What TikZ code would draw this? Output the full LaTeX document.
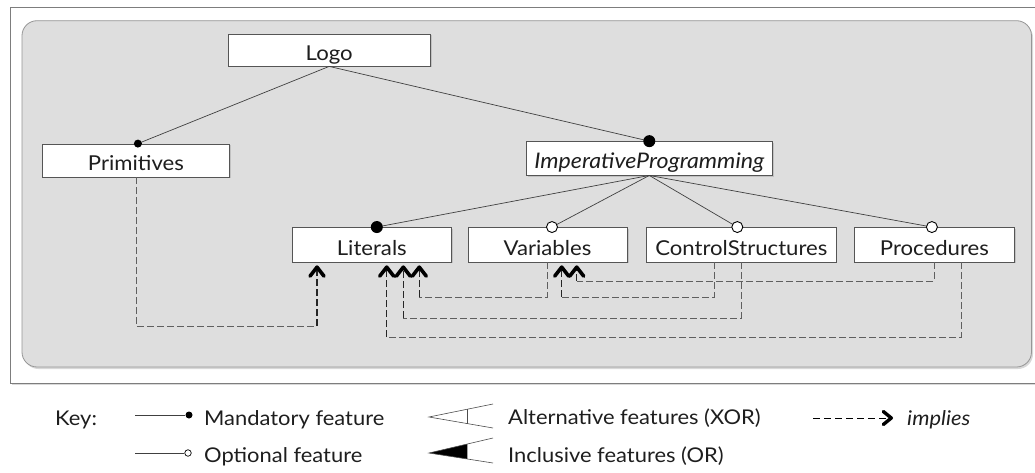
\documentclass[tikz,border=0pt]{standalone}
\usepackage{fontspec}
\setmainfont{Lato}[FakeStretch=1.08]
\usetikzlibrary{arrows.meta,shadows,calc}
\definecolor{bgfill}{RGB}{222,222,222}
\definecolor{framegray}{RGB}{125,125,125}
\definecolor{innergray}{RGB}{150,150,150}
\definecolor{boxline}{RGB}{85,85,85}
\definecolor{txt}{RGB}{30,30,30}
\definecolor{dashgray}{RGB}{95,95,95}
\begin{document}
\begin{tikzpicture}[x=1pt,y=-1pt,
  feat/.style={draw=boxline, line width=0.8pt, fill=white, inner sep=0pt,
    text height=21pt, text depth=0pt, font=\fontsize{20.5}{25}\selectfont, text=txt,
    drop shadow={shadow xshift=1.5pt, shadow yshift=-1.5pt, opacity=0.3}},
  tree/.style={draw=black!75, line width=0.7pt},
  mand/.style={circle, fill=black, inner sep=0pt, minimum size=#1},
  opt/.style={circle, draw=black, fill=white, line width=0.9pt, inner sep=0pt, minimum size=#1},
  impl/.style={draw=dashgray, line width=0.8pt, dash pattern=on 7pt off 3pt},
  impltip/.style={draw=black!85, line width=1.3pt, dash pattern=on 7pt off 3pt,
    -{Straight Barb[length=9pt,width=14pt,line width=3.6pt 0 1,round,color=black]}, shorten >=3pt},
  lg/.style={font=\fontsize{20.3}{24}\selectfont, text=txt, inner sep=0pt},
  symline/.style={draw=black!70, line width=0.6pt}
]
\useasboundingbox (0,0) rectangle (1035,473);
% frames
\draw[draw=framegray, line width=0.8pt, fill=white,
  drop shadow={shadow xshift=1.5pt, shadow yshift=-2pt, opacity=0.3}] (10.7,7.3) rectangle (1050,383);
\draw[draw=innergray, line width=0.8pt, fill=bgfill, rounded corners=15pt,
  drop shadow={shadow xshift=1.5pt, shadow yshift=-2pt, opacity=0.3}] (22,20.7) rectangle (1031.5,367);

% feature nodes
\node[feat, minimum width=202pt, minimum height=32pt] (logo) at (329.2,50) {Logo};
\node[feat, minimum width=186.3pt, minimum height=33pt] (prim) at (135.9,160.5) {Primitives};
\node[feat, minimum width=245.4pt, minimum height=33.5pt, font=\fontsize{21.5}{25}\selectfont\itshape] (ip) at (649.3,158.3) {ImperativeProgramming};
\node[feat, minimum width=159.7pt, minimum height=34.5pt] (lit) at (371.8,244.7) {Literals};
\node[feat, minimum width=159pt, minimum height=34.5pt] (var) at (547.5,244.7) {Variables};
\node[feat, minimum width=189.3pt, minimum height=34.5pt] (cs) at (741.3,244.7) {ControlStructures};
\node[feat, minimum width=159.2pt, minimum height=34.5pt] (proc) at (934.4,244.7) {Procedures};

% tree connectors
\coordinate (primtop) at ($(prim.north)+(2,0)$);
\coordinate (littop) at ($(lit.north)+(5,0)$);
\coordinate (vartop) at ($(var.north)+(4.5,0)$);
\coordinate (cstop) at ($(cs.north)+(-4,0)$);
\coordinate (proctop) at ($(proc.north)+(-2.5,0)$);
\draw[tree] (logo.south) -- (primtop);
\draw[tree] (logo.south) -- (ip.north);
\draw[tree] (ip.south) -- (littop);
\draw[tree] (ip.south) -- (vartop);
\draw[tree] (ip.south) -- (cstop);
\draw[tree] (ip.south) -- (proctop);
\node[mand=8pt] (primdot) at (primtop) {};
\node[mand=12pt] (ipdot) at (ip.north) {};
\node[mand=12pt] (litdot) at (littop) {};
\node[opt=11pt] (vardot) at (vartop) {};
\node[opt=11pt] (csdot) at (cstop) {};
\node[opt=11pt] (procdot) at (proctop) {};

% implies connectors
\coordinate (c1) at (317,326);
\coordinate (c2) at (419.3,297);
\coordinate (c3) at (403.3,318);
\coordinate (c4) at (386.7,337);
\coordinate (c5) at (561.7,297);
\coordinate (c6) at (576.7,281);
\draw[impl] (prim.south) |- (c1);
\draw[impltip] (c1) -- (c1 |- lit.south);
\draw[impl] (var.south) |- (c2);
\draw[impltip] (c2) -- (c2 |- lit.south);
\draw[impl] (cs.south) |- (c3);
\draw[impltip] (c3) -- (c3 |- lit.south);
\draw[impl] ($(proc.south)+(27,0)$) |- (c4);
\draw[impltip] (c4) -- (c4 |- lit.south);
\draw[impl] ($(cs.south)+(-27,0)$) |- (c5);
\draw[impltip] (c5) -- (c5 |- var.south);
\draw[impl] (proc.south) |- (c6);
\draw[impltip] (c6) -- (c6 |- var.south);

% key
\node[lg, anchor=base west] (key) at (55,425) {Key:};
\coordinate (m0) at (135,415);
\node[mand=7pt] (mdot) at (189,415) {};
\draw[tree] (m0) -- (mdot);
\node[lg, anchor=base west] (mtext) at (204,425) {Mandatory feature};
\coordinate (o0) at (135,453);
\node[opt=6.5pt, line width=0.7pt] (odot) at (188,453) {};
\draw[tree] (o0) -- (odot.west);
\node[lg, anchor=base west] (otext) at (204,462) {Optional feature};

\coordinate (xa) at (429,417);
\coordinate (xu) at (493,404);
\coordinate (xl) at (493,428);
\draw[symline] (xu) -- (xa) -- (xl);
\draw[symline] ($(xa)!0.6!(xu)$) -- ($(xa)!0.6!(xl)$);
\node[lg, anchor=base west] (xtext) at (508,424) {Alternative features (XOR)};

\coordinate (oa) at (429,453);
\coordinate (ou) at (493,438);
\coordinate (ol) at (493,463);
\fill[black] (oa) -- ($(oa)!0.6!(ou)$) -- ($(oa)!0.6!(ol)$) -- cycle;
\draw[symline] (ou) -- (oa) -- (ol);
\node[lg, anchor=base west] (ortext) at (508,462) {Inclusive features (OR)};

\coordinate (i0) at (813,418);
\node[lg, anchor=base west, font=\fontsize{20.3}{24}\selectfont\itshape] (itext) at (907,425) {implies};
\draw[draw=black, line width=0.8pt, dash pattern=on 7pt off 4pt,
  -{Straight Barb[length=8pt,width=13pt,line width=3.4pt 0 1,round]}] (i0) -- (893,418);
\end{tikzpicture}
\end{document}
